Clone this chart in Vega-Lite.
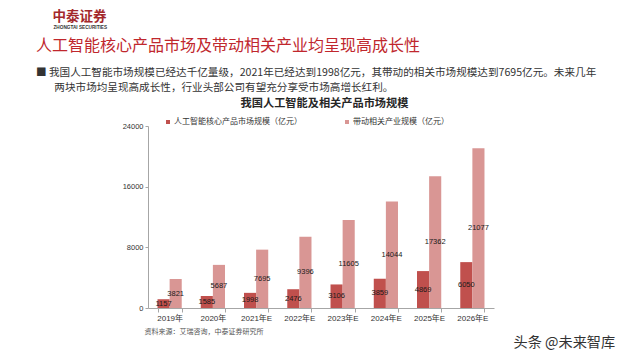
{
  "$schema": "https://vega.github.io/schema/vega-lite/v6.json",
  "width": 346,
  "height": 182,
  "autosize": {"type": "none"},
  "padding": {"left": 148, "top": 126, "right": 146, "bottom": 52},
  "background": "white",
  "title": {
    "text": "人工智能核心产品市场及带动相关产业均呈现高成长性",
    "subtitle": [
      "■ 我国人工智能市场规模已经达千亿量级，2021年已经达到1998亿元，其带动的相关市场规模达到7695亿元。未来几年",
      "\u2800\u2800 两块市场均呈现高成长性，行业头部公司有望充分享受市场高增长红利。"
    ],
    "anchor": "start",
    "frame": "group",
    "dx": -112,
    "dy": 85,
    "offset": 0,
    "font": "Noto Sans CJK SC",
    "fontSize": 16,
    "fontWeight": "normal",
    "color": "#C0272D",
    "subtitleFont": "Noto Sans CJK SC",
    "subtitleFontSize": 10.6,
    "subtitleColor": "#333333",
    "subtitlePadding": 14,
    "subtitleLineHeight": 15
  },
  "datasets": {
    "market": [
      {"year": "2019年", "series": "人工智能核心产品市场规模（亿元）", "value": 1157},
      {"year": "2019年", "series": "带动相关产业规模（亿元）", "value": 3821},
      {"year": "2020年", "series": "人工智能核心产品市场规模（亿元）", "value": 1585},
      {"year": "2020年", "series": "带动相关产业规模（亿元）", "value": 5687},
      {"year": "2021年E", "series": "人工智能核心产品市场规模（亿元）", "value": 1998},
      {"year": "2021年E", "series": "带动相关产业规模（亿元）", "value": 7695},
      {"year": "2022年E", "series": "人工智能核心产品市场规模（亿元）", "value": 2476},
      {"year": "2022年E", "series": "带动相关产业规模（亿元）", "value": 9396},
      {"year": "2023年E", "series": "人工智能核心产品市场规模（亿元）", "value": 3106},
      {"year": "2023年E", "series": "带动相关产业规模（亿元）", "value": 11605},
      {"year": "2024年E", "series": "人工智能核心产品市场规模（亿元）", "value": 3859},
      {"year": "2024年E", "series": "带动相关产业规模（亿元）", "value": 14044},
      {"year": "2025年E", "series": "人工智能核心产品市场规模（亿元）", "value": 4869},
      {"year": "2025年E", "series": "带动相关产业规模（亿元）", "value": 17362},
      {"year": "2026年E", "series": "人工智能核心产品市场规模（亿元）", "value": 6050},
      {"year": "2026年E", "series": "带动相关产业规模（亿元）", "value": 21077}
    ]
  },
  "data": {"name": "market"},
  "layer": [
    {
      "mark": {"type": "bar"},
      "encoding": {
        "x": {
          "field": "year", "type": "nominal", "sort": null,
          "scale": {"paddingInner": 0.44, "paddingOuter": 0.22},
          "axis": {
            "orient": "bottom", "labelAngle": 0,
            "labelFont": "Liberation Sans, Noto Sans CJK SC", "labelFontSize": 8, "labelColor": "#333333", "labelPadding": 2,
            "tickBand": "extent", "tickSize": 4, "tickColor": "#A6A6A6", "domainColor": "#A6A6A6", "grid": false,
            "title": "资料来源：艾瑞咨询，中泰证券研究所",
            "titleFont": "Noto Sans CJK SC", "titleFontSize": 7, "titleFontWeight": "normal", "titleColor": "#555555",
            "titleAnchor": "start", "titleAlign": "left", "titleBaseline": "middle", "titleX": -4, "titleY": 23
          }
        },
        "xOffset": {"field": "series", "type": "nominal", "scale": {"domain": ["人工智能核心产品市场规模（亿元）", "带动相关产业规模（亿元）"]}},
        "y": {
          "field": "value", "type": "quantitative",
          "scale": {"domain": [0, 24000], "nice": false},
          "axis": {
            "orient": "left", "values": [0, 8000, 16000, 24000], "format": "d",
            "labelFont": "Liberation Sans", "labelFontSize": 7.5, "labelColor": "#333333", "labelPadding": 2,
            "tickSize": 3, "tickColor": "#A6A6A6", "domainColor": "#A6A6A6", "grid": false,
            "title": "中泰证券", "titleAngle": 0, "titleX": -96, "titleY": -110,
            "titleAlign": "left", "titleBaseline": "middle",
            "titleFont": "Noto Sans CJK SC", "titleFontSize": 13.5, "titleFontWeight": "bold", "titleColor": "#A3282B"
          }
        },
        "color": {
          "field": "series", "type": "nominal",
          "scale": {"domain": ["人工智能核心产品市场规模（亿元）", "带动相关产业规模（亿元）"], "range": ["#C0504D", "#D99694"]},
          "legend": {
            "orient": "none", "legendX": 16, "legendY": -8, "direction": "horizontal", "columns": 2, "columnPadding": 41,
            "title": null, "symbolType": "square", "symbolSize": 16, "symbolStrokeWidth": 0,
            "labelFont": "Noto Sans CJK SC", "labelFontSize": 8, "labelColor": "#333333", "labelOffset": 2, "padding": 0, "labelLimit": 300
          }
        }
      }
    },
    {
      "transform": [{"filter": "datum.series == '人工智能核心产品市场规模（亿元）'"}],
      "mark": {"type": "text", "font": "Liberation Sans", "fontSize": 7.5, "color": "#1A1A1A", "baseline": "middle", "align": "center"},
      "encoding": {
        "x": {
          "field": "year", "type": "nominal", "sort": null,
          "axis": {
            "orient": "top", "domain": false, "ticks": false, "labels": false, "grid": false,
            "title": "我国人工智能及相关产品市场规模",
            "titleFont": "Noto Sans CJK SC", "titleFontSize": 11.2, "titleFontWeight": "bold", "titleColor": "#262626",
            "titleX": 176, "titleY": -23, "titleAlign": "center", "titleBaseline": "middle"
          }
        },
        "xOffset": {"field": "series", "type": "nominal", "scale": {"domain": ["人工智能核心产品市场规模（亿元）", "带动相关产业规模（亿元）"]}},
        "y": {
          "field": "value", "type": "quantitative",
          "scale": {"domain": [0, 48000], "nice": false},
          "axis": {
            "orient": "right", "domain": false, "ticks": false, "labels": false, "grid": false,
            "title": "头条 @未来智库", "titleAngle": 0, "titleX": 19, "titleY": 216,
            "titleAlign": "left", "titleBaseline": "middle",
            "titleFont": "Noto Sans CJK SC", "titleFontSize": 14.2, "titleFontWeight": "normal", "titleColor": "#333333"
          }
        },
        "text": {"field": "value", "type": "quantitative"}
      }
    },
    {
      "transform": [{"filter": "datum.series == '带动相关产业规模（亿元）'"}],
      "mark": {"type": "text", "font": "Liberation Sans", "fontSize": 7.5, "color": "#1A1A1A", "baseline": "middle", "align": "center"},
      "encoding": {
        "x": {
          "field": "year", "type": "nominal", "sort": null,
          "axis": {
            "orient": "top", "domain": false, "ticks": false, "labels": false, "grid": false,
            "title": "ZHONGTAI SECURITIES",
            "titleFont": "Liberation Sans", "titleFontSize": 4.7, "titleFontWeight": "bold", "titleColor": "#333333",
            "titleX": -95, "titleY": -99, "titleAlign": "left", "titleBaseline": "middle"
          }
        },
        "xOffset": {"field": "series", "type": "nominal", "scale": {"domain": ["人工智能核心产品市场规模（亿元）", "带动相关产业规模（亿元）"]}},
        "y": {
          "field": "value", "type": "quantitative",
          "scale": {"domain": [0, 48000], "nice": false},
          "axis": null
        },
        "text": {"field": "value", "type": "quantitative"}
      }
    }
  ],
  "resolve": {"scale": {"y": "independent"}, "axis": {"x": "independent", "y": "independent"}},
  "config": {"view": {"stroke": null}}
}
